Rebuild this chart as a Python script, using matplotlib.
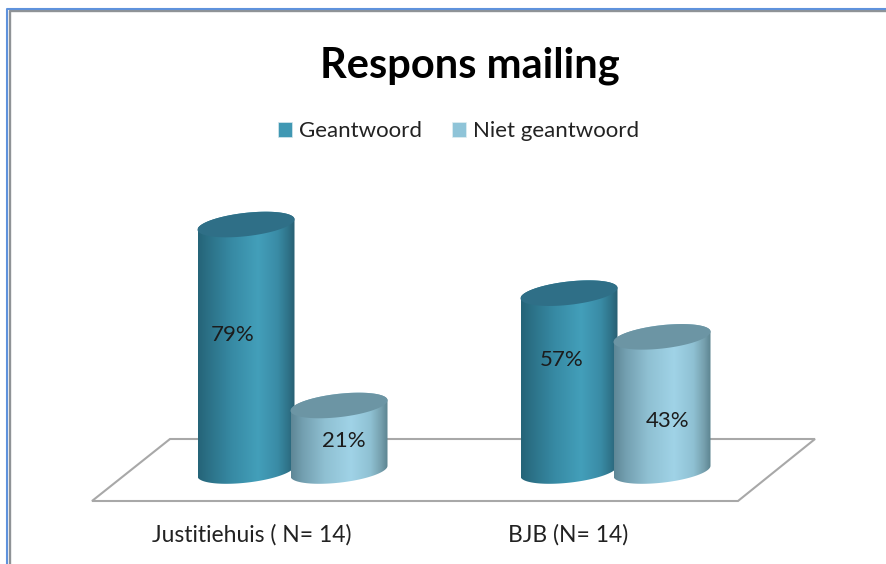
import numpy as np
import matplotlib
matplotlib.use("Agg")
import matplotlib.pyplot as plt
from matplotlib.colors import LinearSegmentedColormap
from matplotlib.patches import Patch, Polygon
from matplotlib.lines import Line2D

categories = ["Justitiehuis ( N= 14)", "BJB (N= 14)"]
series_names = ["Geantwoord", "Niet geantwoord"]
geantwoord = [79, 57]
niet_geantwoord = [21, 43]

W, H = 887, 564
PX_X = 323.0          # px per category step
PX_Y = 3.12           # px per percent
X0, Y0 = 292.5, 471   # pixel of category 0 / of value 0
plt.rcParams["font.family"] = ["Lato", "DejaVu Sans"]
TXT = "#1c1c1c"

fig = plt.figure(figsize=(W / 100, H / 100), dpi=100, facecolor="white")
ax = fig.add_axes([0, 0, 1, 1])
ax.axis("off")

def dx(px):
    return (px - X0) / PX_X

def dy(py):
    return (Y0 - py) / PX_Y

# frame: left and top only
def frame(x, y, color, lw):
    fig.add_artist(Line2D(np.array(x) / W, 1 - np.array(y) / H, color=color, lw=lw,
                          solid_capstyle="butt"))
frame([9.8, 9.8, W], [H, 11, 11], "#8f9396", 1.7)
frame([7, 7, W], [H, 8.7, 8.7], "#5f92dc", 1.5)

# floor
floor_x = np.array([92, 738, 815, 170, 92])
floor_y = np.array([501, 501, 439, 439, 501])
ax.add_patch(Polygon(np.c_[dx(floor_x), dy(floor_y)], closed=True,
                     fc="white", ec="#a8a8a8", lw=1.5, zorder=1))

cm_dark = LinearSegmentedColormap.from_list("d", [(0, "#256478"), (0.12, "#2c7288"), (0.35, "#378aa4"),
                                                  (0.62, "#439fba"), (0.82, "#3a8ca6"), (0.93, "#2f7389"),
                                                  (1, "#285f72")])
cm_light = LinearSegmentedColormap.from_list("l", [(0, "#5e8796"), (0.12, "#739fb0"), (0.35, "#8fc0d2"),
                                                   (0.62, "#a0d3e7"), (0.82, "#8fc1d3"), (0.93, "#76a0ae"),
                                                   (1, "#5c8490")])
tops = ["#2f6f87", "#6c95a4"]
grad = np.linspace(0, 1, 256)[None, :]
t = np.linspace(0, 2 * np.pi, 121)

def cylinder(cx, v, cmap, top, z):
    a, b, shear = 48.5 / PX_X, 11.7 / PX_Y, 5.2 / PX_Y
    lo = t[t >= np.pi]
    hi = t[t <= np.pi]
    bx = cx + a * np.cos(lo)
    by = b * np.sin(lo) + shear * np.cos(lo)
    tx = cx + a * np.cos(hi)
    ty = v + b * np.sin(hi) + shear * np.cos(hi)
    body = Polygon(np.c_[np.r_[bx, tx], np.r_[by, ty]], closed=True, fc="none", ec="none")
    ax.add_patch(body)
    im = ax.imshow(grad, cmap=cmap, extent=[cx - a, cx + a, -20, v + 20], aspect="auto", zorder=z)
    im.set_clip_path(body)
    ax.add_patch(Polygon(np.c_[cx + a * np.cos(t), v + b * np.sin(t) + shear * np.cos(t)],
                         closed=True, fc=top, ec="none", zorder=z + 0.1))

offset = 46.5 / PX_X
dark_label_px = [(233, 335), (562, 360)]
light_label_px = [(344, 441), (668, 421)]
for i, (d, l) in enumerate(zip(geantwoord, niet_geantwoord)):
    cylinder(i - offset, d, cm_dark, tops[0], 2)
    cylinder(i + offset, l, cm_light, tops[1], 3)
    ax.text(dx(dark_label_px[i][0]), dy(dark_label_px[i][1]), f"{d}%", ha="center", va="center",
            fontsize=16, color=TXT, zorder=5)
    ax.text(dx(light_label_px[i][0]), dy(light_label_px[i][1]), f"{l}%", ha="center", va="center",
            fontsize=16, color=TXT, zorder=5)

label_x = [252, 568]
for lx, c in zip(label_x, categories):
    ax.text(dx(lx), dy(535), c, ha="center", va="center", fontsize=16.5, color="#222222")

ax.set_xlim(dx(0), dx(W))
ax.set_ylim(dy(H), dy(0))

fig.suptitle("Respons mailing", x=470 / W, y=1 - 66 / H, ha="center", va="center",
             fontsize=30, fontweight="bold", color="black")

handles = [Patch(fc="#4098b3", ec="#d8e8ee", lw=0.5), Patch(fc="#8fc4d8", ec="#e0eef2", lw=0.5)]
fig.legend(handles, series_names, ncol=2, loc="center", bbox_to_anchor=(458.5 / W, 1 - 131 / H),
           frameon=False, fontsize=16, handlelength=0.65, handleheight=0.65, handletextpad=0.3,
           columnspacing=1.35, labelcolor="#222222")

fig.savefig("out.png", dpi=100)
